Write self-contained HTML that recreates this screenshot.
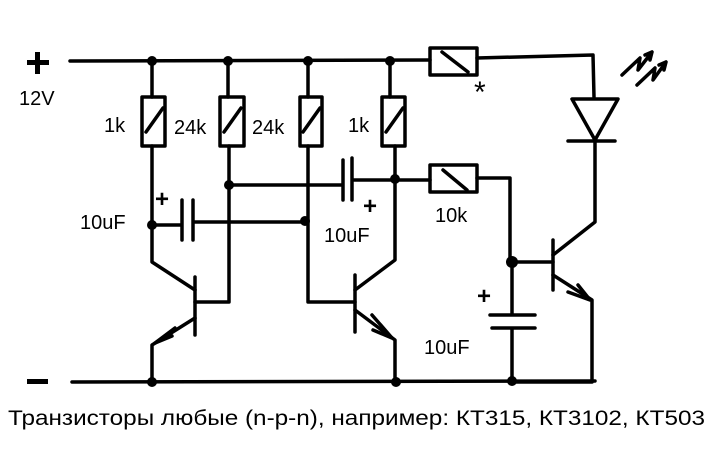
<!DOCTYPE html>
<html><head><meta charset="utf-8"><style>
body{margin:0;background:#fff;width:720px;height:468px;overflow:hidden}
svg{display:block}
text{font-family:"Liberation Sans",sans-serif;fill:#000}
</style></head><body>
<svg width="720" height="468" viewBox="0 0 720 468">
<g stroke="#000" stroke-width="3.5" fill="none" stroke-linecap="round" stroke-linejoin="round">
<path d="M70 61 L430 60"/>
<rect x="430" y="48" width="47" height="27"/>
<path d="M442 52 L468 72"/>
<path d="M477 58 L593 55 L594 97"/>
<path d="M152 61V97 M228 61V97 M308 61V97 M390 61V97"/>
<rect x="142" y="97" width="23" height="49"/><path d="M146 132 L163 108"/>
<rect x="220" y="97" width="24" height="49"/><path d="M224 132 L241 108"/>
<rect x="300" y="97" width="22" height="49"/><path d="M303 132 L320 108"/>
<rect x="382" y="97" width="23" height="49"/><path d="M386 132 L403 108"/>
<path d="M152 146V262 L195 290"/>
<path d="M195 277V335"/>
<path d="M195 318 L152 345 V382"/>
<path d="M175 328 L155 343 L172 336"/>
<path d="M195 302 H229 V146"/>
<path d="M152 225 H182 M182 200V240 M193 200V240 M193 222 H305"/>
<path d="M228 185 H343 M343 160V200 M352 158V200 M352 180 H395"/>
<path d="M308 146V302 H355"/>
<path d="M355 275V332"/>
<path d="M355 290 L395 260 V146"/>
<path d="M355 310 L395 340 V382"/>
<path d="M372 315 L392 338 L373 330"/>
<path d="M395 180 H430"/>
<rect x="430" y="165" width="47" height="27"/><path d="M443 170 L467 190"/>
<path d="M477 178 H510 V262 H553"/>
<path d="M553 240V290"/>
<path d="M553 255 L595 222 V143"/>
<path d="M553 275 L592 300 V382 H512"/>
<path d="M568 292 L590 300 L578 285"/>
<path d="M512 262V315 M490 315H535 M492 328H535 M512 328V381"/>
<path d="M572 99 H618 L595 140 Z M568 141 H615"/>
<path d="M622 75 L640 58 L638 70 L652 52 M645 55 L652 52 L650 60"/>
<path d="M637 85 L655 68 L653 80 L666 62 M659 65 L666 62 L664 70"/>
<path d="M72 382 L595 381"/>
</g>
<g fill="#000">
<circle cx="152" cy="61" r="5"/><circle cx="228" cy="61" r="5"/><circle cx="308" cy="61" r="5"/><circle cx="390" cy="61" r="5"/>
<circle cx="152" cy="225" r="5"/><circle cx="229" cy="185" r="5"/><circle cx="305" cy="221" r="5"/><circle cx="395" cy="179" r="5"/>
<circle cx="512" cy="262" r="6"/><circle cx="152" cy="382" r="5"/><circle cx="396" cy="382" r="5"/><circle cx="512" cy="381" r="5"/>
<rect x="27" y="60" width="22" height="5"/><rect x="35" y="52" width="5" height="22"/>
<rect x="27" y="379" width="21" height="5"/>
</g>
<g font-size="20">
<text x="19" y="105">12V</text>
<text x="104" y="132">1k</text>
<text x="174" y="134">24k</text>
<text x="252" y="134">24k</text>
<text x="348" y="132">1k</text>
<text x="80" y="229">10uF</text>
<text x="324" y="242">10uF</text>
<text x="435" y="222">10k</text>
<text x="424" y="354">10uF</text>
<text x="474" y="102" font-size="30">*</text>
<text x="8" y="425" font-size="21" textLength="697" lengthAdjust="spacingAndGlyphs">Транзисторы любые (n-p-n), например: КТ315, КТ3102, КТ503</text>
</g>
<g font-size="24" font-weight="bold">
<text x="155" y="207">+</text>
<text x="363" y="214">+</text>
<text x="477" y="304">+</text>
</g>
</svg>
</body></html>
